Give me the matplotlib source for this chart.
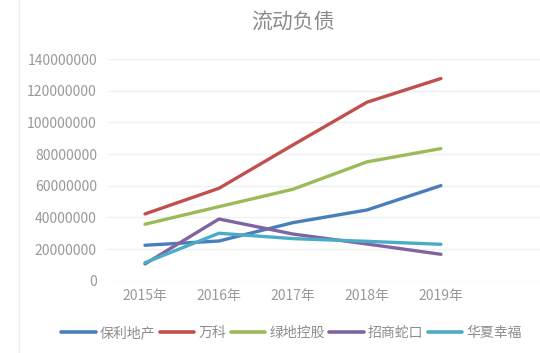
import matplotlib
matplotlib.use("Agg")
import matplotlib.pyplot as plt
from matplotlib.lines import Line2D

plt.rcParams['font.family'] = ['Noto Sans CJK SC', 'DejaVu Sans']

years = ["2015年", "2016年", "2017年", "2018年", "2019年"]
series_names = ["保利地产", "万科", "绿地控股", "招商蛇口", "华夏幸福"]
poly = [22.4e6, 25.1e6, 36.7e6, 44.7e6, 60.1e6]
vanke = [42.2e6, 58.4e6, 85.8e6, 112.8e6, 127.8e6]
greenland = [35.7e6, 46.8e6, 57.8e6, 75.1e6, 83.5e6]
cmsk = [10.6e6, 39.0e6, 29.5e6, 23.2e6, 16.7e6]
cfld = [11.4e6, 30.0e6, 26.6e6, 24.9e6, 23.0e6]
y_ticks = [0, 20000000, 40000000, 60000000, 80000000, 100000000, 120000000, 140000000]

colors = ["#4A7EBB", "#C0504D", "#9BBB59", "#8064A2", "#4BACC6"]
all_series = [poly, vanke, greenland, cmsk, cfld]

fig = plt.figure(figsize=(5.4, 3.53), dpi=100)
ax = fig.add_axes([0.2, 0.2048, 0.822, 0.6275])

# faint chart-area border line on the left
fig.add_artist(Line2D([0.036, 0.036], [0, 1], transform=fig.transFigure,
                      color='#F0F0F0', lw=1))

x = list(range(len(years)))
for name, vals, c in zip(series_names, all_series, colors):
    ax.plot(x, vals, color=c, lw=2.4, label=name, solid_capstyle='round')

ax.set_xlim(-0.5, 5.5)
ax.set_ylim(0, 140000000)
ax.set_yticks(y_ticks)
ax.set_yticklabels([str(v) for v in y_ticks])
ax.set_xticks(x)
ax.set_xticklabels(years)
ax.grid(axis='y', color='#F0F0F0', lw=1)
ax.set_axisbelow(True)
for s in ax.spines.values():
    s.set_visible(False)
ax.tick_params(axis='both', length=0, colors='#999999', labelsize=10)
ax.tick_params(axis='y', pad=8)
ax.tick_params(axis='x', pad=6)

fig.text(0.543, 0.937, "流动负债", ha='center', va='center', fontsize=15, color='#8A8A8A')

leg = fig.legend(loc='center', bbox_to_anchor=(0.54, 0.057), ncol=5, frameon=False,
                 fontsize=10, handlelength=2.5, handletextpad=0.3, columnspacing=0.3,
                 labelcolor='#8C8C8C')
for h in leg.get_lines():
    h.set_linewidth(2.6)

fig.savefig("out.png", dpi=100)
